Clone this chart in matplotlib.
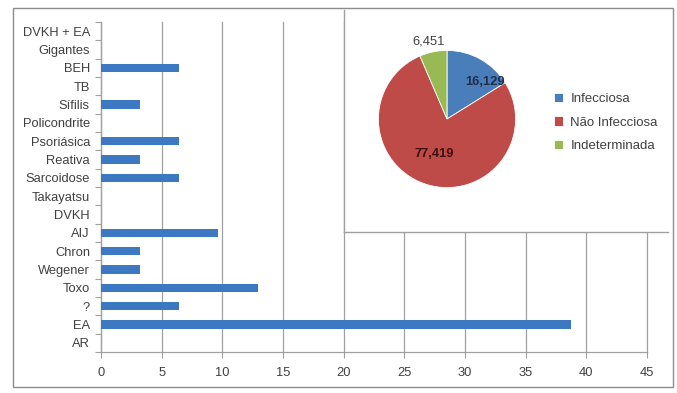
import numpy as np
import matplotlib.pyplot as plt
from matplotlib.patches import Rectangle

# dados (bottom -> top)
categorias = ["AR", "EA", "?", "Toxo", "Wegener", "Chron", "AIJ", "DVKH",
              "Takayatsu", "Sarcoidose", "Reativa", "Psoriásica", "Policondrite",
              "Sífilis", "TB", "BEH", "Gigantes", "DVKH + EA"]
percentuais = [0, 38.71, 6.45, 12.90, 3.23, 3.23, 9.68, 0,
               0, 6.45, 3.23, 6.45, 0,
               3.23, 0, 6.45, 0, 0]
x_ticks = [0, 5, 10, 15, 20, 25, 30, 35, 40, 45]

pie_labels = ["Infecciosa", "Não Infecciosa", "Indeterminada"]
pie_values = [16.129, 77.419, 6.451]
pie_text = ["16,129", "77,419", "6,451"]

bar_color = "#3D78C3"
pie_colors = ["#4A7EBB", "#BE4B48", "#98B954"]
grid_c = "#A0A0A0"
txt_c = "#404040"

plt.rcParams['font.family'] = ['Liberation Sans', 'DejaVu Sans']

fig = plt.figure(figsize=(6.77, 3.93), dpi=100)
W, H = 677, 393

# moldura externa
fig.patches.append(Rectangle((13 / W, 1 - 387 / H), 660 / W, 379 / H,
                             transform=fig.transFigure, fill=False,
                             edgecolor="#8C8C8C", lw=1.0))

ax = fig.add_axes([101 / W, 1 - 352 / H, 546 / W, 330 / H])
y = np.arange(len(categorias))
ax.barh(y, percentuais, height=0.44, color=bar_color, zorder=3)
ax.set_xlim(0, 45)
ax.set_ylim(-0.5, len(categorias) - 0.5)
ax.set_xticks(x_ticks)
ax.set_xticklabels([str(v) for v in x_ticks], fontsize=9.3, color=txt_c)
ax.set_yticks(y)
ax.set_yticklabels(categorias, fontsize=9.3, color=txt_c)
ax.set_yticks(np.arange(len(categorias) + 1) - 0.5, minor=True)
ax.tick_params(axis='y', which='major', length=0, pad=8)
ax.tick_params(axis='y', which='minor', length=4, color=grid_c, width=0.8)
ax.tick_params(axis='x', length=4, color=grid_c, width=0.8, pad=7)
ax.grid(axis='x', color=grid_c, lw=0.9, zorder=0)
for gl in ax.get_xgridlines():
    gl.set_clip_on(False)
for s in ["top", "right"]:
    ax.spines[s].set_visible(False)
for s in ["left", "bottom"]:
    ax.spines[s].set_color(grid_c)
    ax.spines[s].set_linewidth(0.9)

# caixa do grafico de pizza
box = fig.add_axes([344 / W, 1 - 232 / H, 324 / W, 222 / H])
box.set_facecolor("white")
box.set_xticks([])
box.set_yticks([])
for s in ["top", "right"]:
    box.spines[s].set_visible(False)
for s in ["left", "bottom"]:
    box.spines[s].set_color(grid_c)
    box.spines[s].set_linewidth(1.0)

pax = fig.add_axes([(447 - 72) / W, 1 - (119 + 72) / H, 144 / W, 144 / H])
wedges, _ = pax.pie(pie_values, colors=pie_colors, startangle=90,
                    counterclock=False, radius=1.0,
                    wedgeprops=dict(edgecolor="white", linewidth=0.6))
pax.set_aspect('equal')
pax.set_xlim(-1.05, 1.05)
pax.set_ylim(-1.05, 1.05)

label_r = [0.78, 0.54, 1.16]
label_shift = [-17, -3, 2]
label_col = ["#1F2F4A", "#3A1010", txt_c]
for w, t, r, sh, c in zip(wedges, pie_text, label_r, label_shift, label_col):
    ang = np.deg2rad((w.theta1 + w.theta2) / 2 + sh)
    pax.text(r * np.cos(ang), r * np.sin(ang), t, ha="center", va="center",
             fontsize=9.3, color=c, fontweight="bold" if r < 1 else "normal")

fig.legend(wedges, pie_labels, loc="upper left",
           bbox_to_anchor=(542 / W, 1 - 81 / H), frameon=False,
           fontsize=9.5, handlelength=0.7, handleheight=0.7, handletextpad=0.55,
           labelspacing=0.85, labelcolor=txt_c)

fig.savefig("out.png", dpi=100)
